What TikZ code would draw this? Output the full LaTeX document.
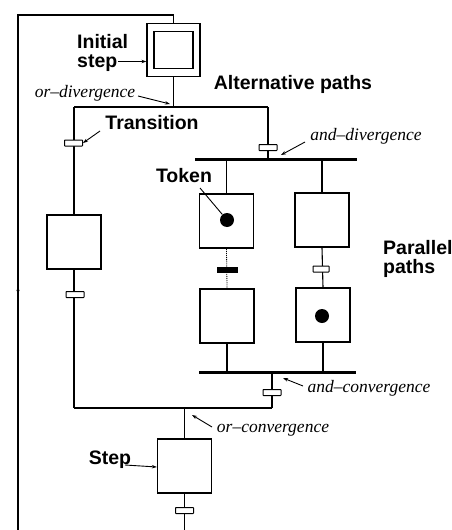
\documentclass[tikz,border=0pt]{standalone}
\usepackage{fontspec}
\newfontfamily\lblfont{Liberation Sans}
\newfontfamily\itfont[Ligatures=TeX]{Liberation Serif}
\usetikzlibrary{arrows.meta,calc}
\tikzset{
  stepbox/.style={draw,line width=1.3pt,minimum width=54pt,minimum height=54pt,inner sep=0pt},
  trans/.style={draw,line width=1pt,fill=white,minimum width=18pt,minimum height=6pt,inner sep=0pt,rounded corners=0.5pt},
  ftrans/.style={draw,fill=black,line width=0.6pt,minimum width=20pt,minimum height=5pt,inner sep=0pt},
  link/.style={line width=1.1pt},
  bar/.style={line width=3pt},
  bold/.style={font=\lblfont\bfseries\fontsize{19.5}{21}\selectfont,inner sep=0pt},
  ital/.style={font=\itfont\itshape\fontsize{17.5}{19}\selectfont,inner sep=0pt},
  pointer/.style={line width=0.9pt,-{Stealth[length=5pt,width=3.5pt]}},
  tokdot/.style={circle,fill=black,minimum size=14pt,inner sep=0pt},
}
\begin{document}
\begin{tikzpicture}[x=1pt,y=-1pt]
\useasboundingbox[fill=white] (0,0) rectangle (452,530);
% steps
\node[draw,line width=1.3pt,minimum width=53pt,minimum height=53pt,inner sep=0pt] (init) at (173.5,50) {};
\node[draw,line width=1.3pt,minimum width=39pt,minimum height=37pt,inner sep=0pt] (initin) at (173.5,50) {};
\node[stepbox] (L) at (74,242) {};
\node[stepbox] (A1) at (226.5,221) {};
\node[stepbox] (A2) at (227,316) {};
\node[stepbox] (B1) at (322,220) {};
\node[stepbox] (B2) at (323,315) {};
\node[stepbox] (S) at (184.5,466) {};
% junctions
\coordinate (jtop) at (173.5,107);
\coordinate (jl) at (74,107);
\coordinate (jr) at (268,107);
\coordinate (bar1l) at (195,159);
\coordinate (bar1r) at (357,159);
\coordinate (bar2l) at (199,372);
\coordinate (bar2r) at (356,372);
\coordinate (jbl) at (74,408);
\coordinate (jbr) at (272,408);
\coordinate (jbm) at (184.5,408);
\coordinate (lp1) at (184.5,531);
\coordinate (lp2) at (18,531);
\coordinate (lp3) at (18,15);
\coordinate (lp4) at (173.5,15);
\coordinate (lpmid) at (18,286);
% links
\draw[link] (init.south) -- (jtop);
\draw[link] (jl) -- (jr);
\draw[link] (jl) -- (L.north);
\draw[link] (jr) -- (bar1l -| jr);
\draw[link] (bar1l -| A1) -- (A1.north);
\draw[link] (bar1l -| B1) -- (B1.north);
\draw[link,densely dotted,line width=0.8pt] (A1.south) -- (A2.north);
\draw[link] (B1.south) -- (B2.north);
\draw[link] (A2.south) -- (bar2l -| A2);
\draw[link] (B2.south) -- (bar2l -| B2);
\draw[link] (L.south) -- (jbl);
\draw[link] (bar2l -| jbr) -- (jbr);
\draw[link] (jbl) -- (jbr);
\draw[link] (jbm) -- (S.north);
\draw[link] (S.south) -- (lp1) -- (lp2) -- (lp3) -- (lp4) -- (init.north);
\draw[-{Stealth[length=5pt,width=3pt]},line width=1pt] ($(lpmid)+(0,4)$) -- (lpmid);
\draw[bar] (bar1l) -- (bar1r);
\draw[bar] (bar2l) -- (bar2r);
% transitions
\node[trans] (t1) at (73.5,143) {};
\node[trans] (t2) at (268,147.5) {};
\node[trans] (t3) at (75,294.5) {};
\node[ftrans] (tA) at (227,269.5) {};
\node[trans,minimum width=16pt] (tB) at (321,269) {};
\node[trans] (t4) at (272,392.5) {};
\node[trans] (t5) at (184.5,510.5) {};
% tokens
\node[tokdot] (dot1) at (227,220) {};
\node[tokdot] (dot2) at (322,316) {};
% labels
\node[bold,anchor=base west] (lblinit) at (77,48) {Initial};
\node[bold,anchor=base west] (lblstep) at (77,67.5) {step};
\coordinate (stepend) at ($(lblstep.base east)+(1,-6)$);
\draw[pointer] (stepend) -- (stepend -| init.west);
\node[ital] (lblord) at (85,93) {or--divergence};
\draw[pointer] (138,96) -- (170,104);
\node[bold] (lbltr) at (152,123) {Transition};
\draw[pointer] (100,131) -- (t1.east);
\node[bold] (lblalt) at (293,84) {Alternative paths};
\node[ital] (lblandd) at (366,136) {and--divergence};
\draw[pointer] (305,142) -- (281,155);
\node[bold] (lbltok) at (184,176) {Token};
\draw[line width=0.9pt] (200,188) -- (dot1);
\node[bold,anchor=west] (lblpar) at (383,248) {Parallel};
\node[bold,anchor=west] (lblpaths) at (383,268) {paths};
\node[ital] (lblandc) at (369,388) {and--convergence};
\draw[pointer] (303,386) -- (283,378);
\node[ital] (lblorc) at (273,430) {or--convergence};
\draw[pointer] (212,427) -- (192,415);
\node[bold] (lblS) at (110,460) {Step};
\draw[pointer] (125,465) -- (S.west |- 0,467);
\end{tikzpicture}
\end{document}
